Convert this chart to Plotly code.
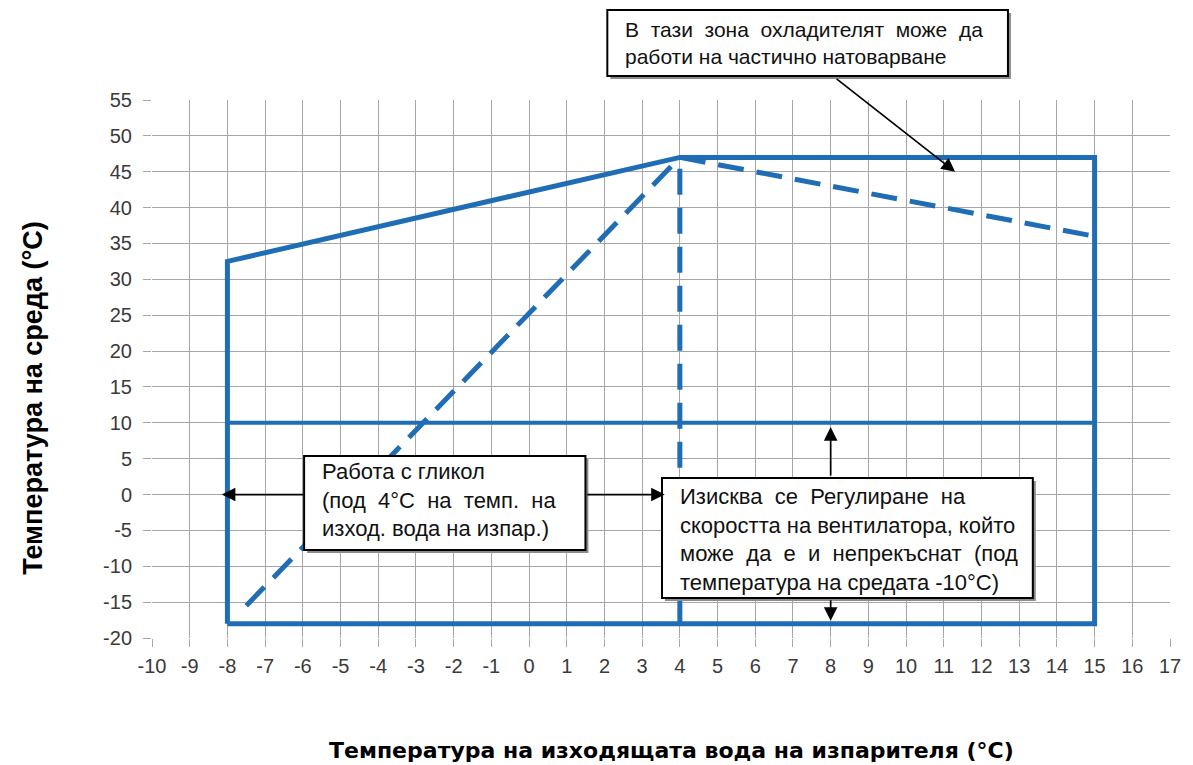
import plotly.graph_objects as go

# ---- data ----
envelope_x = [-8, -8, 4, 15, 15, -8]
envelope_y = [-18, 32.5, 47, 47, -18, -18]
mid_x = [-8, 15]
mid_y = [10, 10]
vert_dash_x = [4, 4]
vert_dash_y = [-18, 47]
rise_dash_x = [-7.5, 4]
rise_dash_y = [-15.5, 47]
fall_dash_x = [4, 15]
fall_dash_y = [47, 36]

x_ticks = list(range(-10, 18))
y_ticks = list(range(-20, 56, 5))

BLUE = "#1f6db5"
FONT = "Liberation Sans, Arial, sans-serif"

fig = go.Figure()
fig.add_trace(go.Scatter(x=envelope_x, y=envelope_y, mode="lines",
                         line=dict(color=BLUE, width=5), hoverinfo="skip"))
fig.add_trace(go.Scatter(x=mid_x, y=mid_y, mode="lines",
                         line=dict(color=BLUE, width=4), hoverinfo="skip"))
for xs, ys in [(vert_dash_x, vert_dash_y), (rise_dash_x, rise_dash_y), (fall_dash_x, fall_dash_y)]:
    fig.add_trace(go.Scatter(x=xs, y=ys, mode="lines",
                             line=dict(color=BLUE, width=5, dash="26px,13px"),
                             hoverinfo="skip"))

# plot area in pixels
L, R, T, B = 152, 1176, 100, 638
PW, PH = R - L, B - T


def px(xp):
    return (xp - L) / PW


def py(yp):
    return (B - yp) / PH


annotations = []
shapes = []


def box(left, top, w, h, text_left, text_cy, size, text):
    shapes.append(dict(type="rect", xref="paper", yref="paper",
                       x0=px(left + 3), x1=px(left + w + 3),
                       y0=py(top + h + 3), y1=py(top + 3),
                       fillcolor="#8c8c8c", line=dict(width=0), layer="above"))
    shapes.append(dict(type="rect", xref="paper", yref="paper",
                       x0=px(left), x1=px(left + w),
                       y0=py(top + h), y1=py(top),
                       fillcolor="white", line=dict(color="black", width=2),
                       layer="above"))
    annotations.append(dict(xref="paper", yref="paper", x=px(text_left), y=py(text_cy),
                            xanchor="left", yanchor="middle", showarrow=False,
                            text=text, align="left",
                            font=dict(family=FONT, size=size, color="#111111")))


box(610, 10, 403, 66, 626, 43, 21,
    "В  тази  зона  охладителят  може  да<br>работи на частично натоварване")
box(305, 456, 283, 94, 321, 500, 22,
    "Работа с гликол<br>(под  4°C  на  темп.  на<br>изход. вода на изпар.)")
box(665, 478, 373, 120, 681, 539, 22,
    "Изисква  се  Регулиране  на<br>скоростта на вентилатора, който<br>"
    "може  да  е  и  непрекъснат  (под<br>температура на средата -10°C)")


def arrow(x, y, ax, ay):
    annotations.append(dict(x=x, y=y, xref="x", yref="y", ax=ax, ay=ay,
                            axref="pixel", ayref="pixel", text="",
                            showarrow=True, arrowhead=2, arrowsize=1.6,
                            arrowwidth=1.7, arrowcolor="black"))


arrow(11.3, 45, -120, -94)
arrow(-8.15, 0, 83, 0)
arrow(3.6, 0, -79, 0)
arrow(8, 9.4, 0, 50)
arrow(8, -17.6, 0, -22)

# axis titles
annotations.append(dict(xref="paper", yref="paper", x=px(675), y=py(750),
                        xanchor="center", yanchor="middle", showarrow=False,
                        text="<b>Температура на изходящата вода на изпарителя (°C)</b>",
                        font=dict(family="DejaVu Sans, sans-serif", size=22, color="black")))
annotations.append(dict(xref="paper", yref="paper", x=px(32), y=py(398),
                        xanchor="center", yanchor="middle", showarrow=False,
                        textangle=-90,
                        text="<b>Температура на среда (°C)</b>",
                        font=dict(family=FONT, size=27, color="black")))

fig.update_layout(
    width=1193, height=765,
    margin=dict(l=L, r=1193 - R, t=T, b=765 - B),
    paper_bgcolor="white", plot_bgcolor="white",
    showlegend=False,
    annotations=annotations, shapes=shapes,
    xaxis=dict(range=[-10, 17], tickvals=x_ticks, ticktext=[str(v) for v in x_ticks],
               showgrid=True, gridcolor="#a6a6a6", gridwidth=1, zeroline=False,
               ticks="outside", ticklen=8, tickcolor="#a6a6a6",
               tickfont=dict(family=FONT, size=20, color="#3a3a3a"),
               ticklabelstandoff=2, showline=False, fixedrange=True),
    yaxis=dict(range=[-20, 55], tickvals=y_ticks, ticktext=[str(v) for v in y_ticks],
               showgrid=True, gridcolor="#a6a6a6", gridwidth=1, zeroline=False,
               ticks="outside", ticklen=8, tickcolor="#a6a6a6",
               tickfont=dict(family=FONT, size=20, color="#3a3a3a"),
               ticklabelstandoff=7, showline=False, fixedrange=True),
)

fig.write_html("out.html", config={"displayModeBar": False},
               post_script="document.body.style.margin='0';")
